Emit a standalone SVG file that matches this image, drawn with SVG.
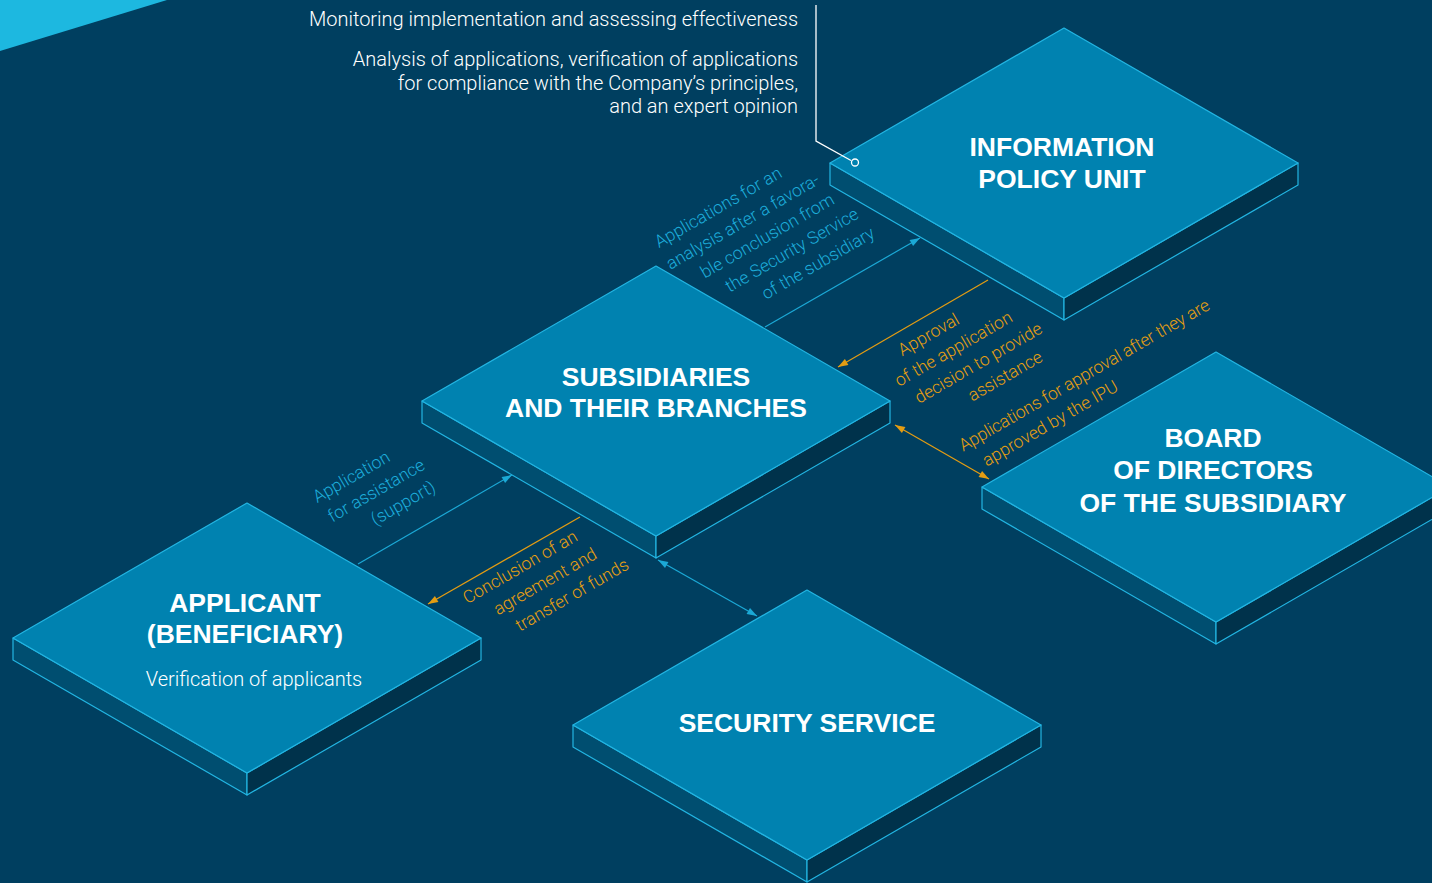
<svg xmlns="http://www.w3.org/2000/svg" width="1432" height="883" viewBox="0 0 1432 883">
  <defs>
    <style>
      .bg{fill:#003F60}
      .corner{fill:#1DB8E0}
      .top{fill:#0082B0;stroke:#22B5E2;stroke-width:1.2;stroke-linejoin:round}
      .lside{fill:#004E70;stroke:#22B5E2;stroke-width:1.2;stroke-linejoin:round}
      .rside{fill:#00324B;stroke:#22B5E2;stroke-width:1.2;stroke-linejoin:round}
      .title{font-family:"Liberation Sans",Arial,sans-serif;font-weight:700;font-size:26.5px;fill:#FFFFFF;text-anchor:middle}
      .note{font-family:Roboto,"Liberation Sans",sans-serif;font-weight:300;font-size:20px;fill:#FFFFFF}
      .lbl{font-family:Roboto,"Liberation Sans",sans-serif;font-weight:300;font-size:17.5px}
      .cy{fill:#1DADDB}
      .or{fill:#E89F10}
      .wire-c{stroke:#1BA9D6;stroke-width:1.2;fill:none}
      .wire-o{stroke:#E49D12;stroke-width:1.2;fill:none}
    </style>
    <marker id="ah-c" viewBox="0 0 10 7" refX="10" refY="3.5" markerWidth="11" markerHeight="7" markerUnits="userSpaceOnUse" orient="auto-start-reverse">
      <path d="M0,0L10,3.5L0,7z" fill="#1BA9D6"/>
    </marker>
    <marker id="ah-o" viewBox="0 0 10 7" refX="10" refY="3.5" markerWidth="11" markerHeight="7" markerUnits="userSpaceOnUse" orient="auto-start-reverse">
      <path d="M0,0L10,3.5L0,7z" fill="#E49D12"/>
    </marker>
    <!-- isometric slab: top face centred on the origin, 22px thick -->
    <g id="slab">
      <polygon class="lside" points="-234,0 0,135 0,157 -234,22"/>
      <polygon class="rside" points="0,135 234,0 234,22 0,157"/>
      <polygon class="top" points="0,-135 234,0 0,135 -234,0"/>
    </g>
  </defs>

  <rect class="bg" x="0" y="0" width="1432" height="883"/>
  <polygon class="corner" points="0,0 167,0 0,51"/>

  <!-- notes in the upper area -->
  <g id="notes">
    <text class="note" text-anchor="end">
      <tspan x="803" y="26">Monitoring implementation and assessing effectiveness</tspan>
      <tspan x="803" y="66">Analysis of applications, verification of applications</tspan>
      <tspan x="803" y="90">for compliance with the Company’s principles,</tspan>
      <tspan x="798" y="113">and an expert opinion</tspan>
    </text>
  </g>

  <!-- nodes -->
  <g id="node-ipu">
    <use href="#slab" x="1064" y="163"/>
    <text class="title"><tspan x="1062" y="156">INFORMATION</tspan><tspan x="1062" y="188">POLICY UNIT</tspan></text>
  </g>
  <g id="node-subsidiaries">
    <use href="#slab" x="656" y="401"/>
    <text class="title"><tspan x="656" y="386">SUBSIDIARIES</tspan><tspan x="656" y="417">AND THEIR BRANCHES</tspan></text>
  </g>
  <g id="node-applicant">
    <use href="#slab" x="247" y="638"/>
    <text class="title"><tspan x="245" y="612">APPLICANT</tspan><tspan x="245" y="643">(BENEFICIARY)</tspan></text>
    <text class="note" text-anchor="middle" x="254" y="686">Verification of applicants</text>
  </g>
  <g id="node-security">
    <use href="#slab" x="807" y="725"/>
    <text class="title" x="807" y="732">SECURITY SERVICE</text>
  </g>
  <g id="node-board">
    <use href="#slab" x="1216" y="487"/>
    <text class="title"><tspan x="1213" y="447">BOARD</tspan><tspan x="1213" y="479">OF DIRECTORS</tspan><tspan x="1213" y="512">OF THE SUBSIDIARY</tspan></text>
  </g>

  <!-- callout from the notes to the IPU -->
  <g id="callout">
    <polyline points="816,5 816,141 851,160.5" fill="none" stroke="#FFFFFF" stroke-width="1.3"/>
    <circle cx="855" cy="162.5" r="3.5" fill="#0082B0" stroke="#FFFFFF" stroke-width="1.3"/>
  </g>

  <!-- connectors -->
  <g id="connectors">
    <line class="wire-c" x1="765" y1="327" x2="920" y2="238" marker-end="url(#ah-c)"/>
    <line class="wire-o" x1="988" y1="280" x2="838" y2="367" marker-end="url(#ah-o)"/>
    <line class="wire-o" x1="895" y1="425" x2="989" y2="479" marker-start="url(#ah-o)" marker-end="url(#ah-o)"/>
    <line class="wire-c" x1="358" y1="564" x2="512" y2="475" marker-end="url(#ah-c)"/>
    <line class="wire-o" x1="580" y1="517" x2="428" y2="604" marker-end="url(#ah-o)"/>
    <line class="wire-c" x1="658" y1="560" x2="757" y2="616" marker-start="url(#ah-c)" marker-end="url(#ah-c)"/>
  </g>

  <!-- connector labels lying on the floor plane -->
  <g id="labels" transform="rotate(-30)">
    <text class="lbl cy" text-anchor="middle">
      <tspan x="520.5" y="544.5">Applications for an</tspan>
      <tspan x="534.6" y="569.1">analysis after a favora-</tspan>
      <tspan x="548.7" y="593.7">ble conclusion from</tspan>
      <tspan x="562.8" y="618.3">the Security Service</tspan>
      <tspan x="576.9" y="642.9">of the subsidiary</tspan>
    </text>
    <text class="lbl or" text-anchor="middle">
      <tspan x="639" y="760">Approval</tspan>
      <tspan x="653.5" y="784.7">of the application</tspan>
      <tspan x="668" y="809.4">decision to provide</tspan>
      <tspan x="682.5" y="834.1">assistance</tspan>
    </text>
    <text class="lbl or">
      <tspan x="608.4" y="872.9" textLength="286" lengthAdjust="spacing">Applications for approval after they are</tspan>
      <tspan x="621.2" y="897.5">approved by the IPU</tspan>
    </text>
    <text class="lbl cy" text-anchor="middle">
      <tspan x="68" y="594.5">Application</tspan>
      <tspan x="82.8" y="618.8">for assistance</tspan>
      <tspan x="97.6" y="643">(support)</tspan>
    </text>
    <text class="lbl or" text-anchor="middle">
      <tspan x="169" y="757">Conclusion of an</tspan>
      <tspan x="183.5" y="782">agreement and</tspan>
      <tspan x="198" y="807">transfer of funds</tspan>
    </text>
  </g>
</svg>
